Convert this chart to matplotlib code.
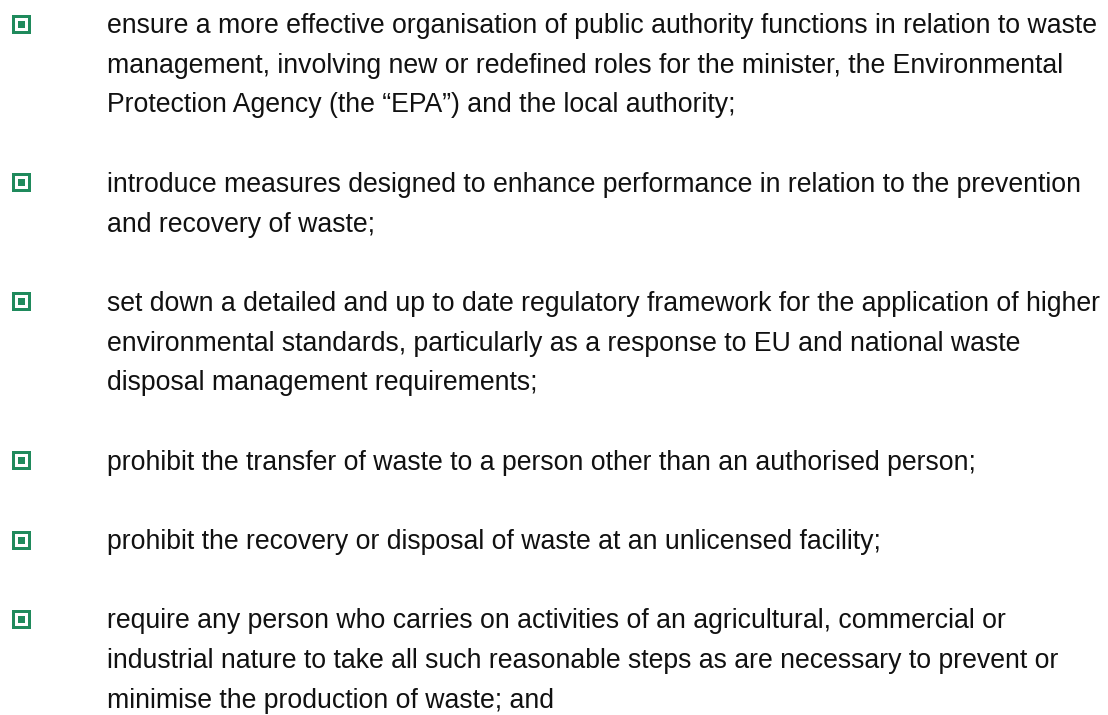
import matplotlib.pyplot as plt
from matplotlib import font_manager
from matplotlib.patches import Rectangle

# bullet items, wrapped the same way as in the source
items = [
    ["ensure a more effective organisation of public authority functions in relation to waste",
     "management, involving new or redefined roles for the minister, the Environmental",
     "Protection Agency (the \u201cEPA\u201d) and the local authority;"],
    ["introduce measures designed to enhance performance in relation to the prevention",
     "and recovery of waste;"],
    ["set down a detailed and up to date regulatory framework for the application of higher",
     "environmental standards, particularly as a response to EU and national waste",
     "disposal management requirements;"],
    ["prohibit the transfer of waste to a person other than an authorised person;"],
    ["prohibit the recovery or disposal of waste at an unlicensed facility;"],
    ["require any person who carries on activities of an agricultural, commercial or",
     "industrial nature to take all such reasonable steps as are necessary to prevent or",
     "minimise the production of waste; and"],
]

names = sorted({f.name for f in font_manager.fontManager.ttflist})
print(names)
print(font_manager.findfont('Liberation Sans'))
plt.rcParams['font.family'] = ['Liberation Sans', 'DejaVu Sans']

green = '#1f8a5c'
W, H = 1108, 715
fig = plt.figure(figsize=(W / 100, H / 100), dpi=100)
ax = fig.add_axes([0, 0, 1, 1])
ax.set_xlim(0, W)
ax.set_ylim(H, 0)
ax.axis('off')

# fit font size so the first line spans the same width as the source
probe = ax.text(0, 0, items[0][0], fontsize=16)
fig.canvas.draw()
wpx = probe.get_window_extent().width
probe.remove()
fsize = 16 * 990 / wpx
print(wpx, fsize)

line_h = 39.7
first_base = 33
text_x = 107
slot = 0
for lines in items:
    base = first_base + slot * line_h
    # bullet: green square, white frame, green core
    cx, cy = 21.5, base - 9
    ax.add_patch(Rectangle((cx - 9.5, cy - 9.5), 19, 19, color=green, lw=0))
    ax.add_patch(Rectangle((cx - 6.5, cy - 6.5), 13, 13, color='white', lw=0))
    ax.add_patch(Rectangle((cx - 3.5, cy - 3.5), 7, 7, color=green, lw=0))
    for i, ln in enumerate(lines):
        ax.text(text_x, base + i * line_h, ln, fontsize=fsize,
                color='#111111', va='baseline', ha='left')
    slot += len(lines) + 1

fig.savefig('out.png', dpi=100)
